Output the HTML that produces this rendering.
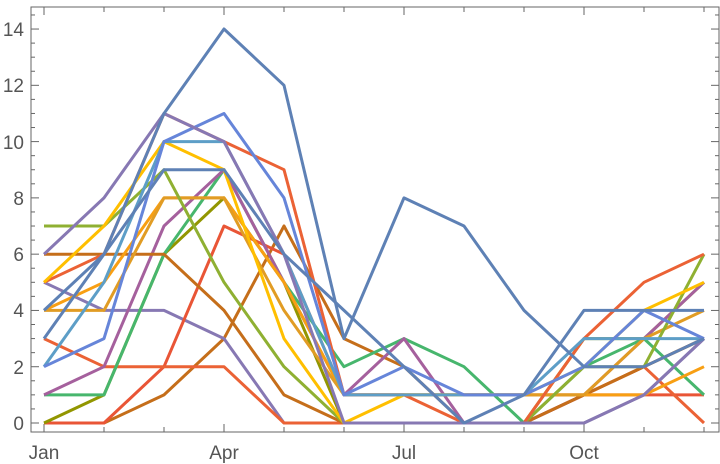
<!DOCTYPE html>
<html><head><meta charset="utf-8"><style>
html,body{margin:0;padding:0;background:#fff;width:720px;height:464px;overflow:hidden}
svg text{font-family:"Liberation Sans",sans-serif;fill:#555}
</style></head><body>
<svg id="s" width="720" height="464" viewBox="0 0 720 464" xmlns="http://www.w3.org/2000/svg">
<rect x="31" y="7" width="688" height="425" fill="none" stroke="#666" stroke-width="1"/>
<g id="ticks" stroke="#666" stroke-width="1"></g>
<g font-size="19" text-anchor="end">
<text x="24" y="430">0</text><text x="24" y="374">2</text><text x="24" y="317">4</text><text x="24" y="261">6</text>
<text x="24" y="205">8</text><text x="24" y="149">10</text><text x="24" y="92">12</text><text x="24" y="36">14</text>
</g>
<g font-size="19" text-anchor="middle">
<text x="44" y="459">Jan</text><text x="224" y="459">Apr</text><text x="404" y="459">Jul</text><text x="584" y="459">Oct</text>
</g>
<g id="lines" fill="none" stroke-width="3" stroke-linejoin="round"></g>
</svg>
<script>
var X=function(i){return 44+60*i},Y=function(v){return 423-28.14*v};
var t='';
for(var i=0;i<12;i++){t+='<line x1="'+X(i)+'" y1="432" x2="'+X(i)+'" y2="'+(i%3==0?424:427)+'"/>';
 t+='<line x1="'+X(i)+'" y1="7" x2="'+X(i)+'" y2="'+(i%3==0?15:12)+'"/>';}
for(var v=0;v<=14.6;v+=0.5){var y=Y(v);t+='<line x1="31" y1="'+y+'" x2="'+(v%2==0?39:35)+'" y2="'+y+'"/>';t+='<line x1="719" y1="'+y+'" x2="'+(v%2==0?711:715)+'" y2="'+y+'"/>';}
document.getElementById('ticks').innerHTML=t;
var S=[
['#c56e1a',[0,0,1,3,7,3,2,0,0,1,2,3]],
['#8778b3',[5,4,4,3,0,0,0,0,0,0,1,3]],
['#e95536',[0,0,2,7,6,1,1,1,1,1,1,1]],
['#eb6235',[3,2,2,2,0,0,0,0,0,1,2,0]],
['#929600',[0,1,6,8,5,0,0,0,0,3,3,5]],
['#47b66d',[1,1,6,9,5,2,3,2,0,2,3,1]],
['#a5609d',[1,2,7,9,5,1,3,0,0,1,3,5]],
['#c56e1a',[6,6,6,4,1,0,0,0,0,1,2,3]],
['#f89f13',[4,5,8,8,5,1,1,1,1,1,1,2]],
['#e19c24',[4,4,8,8,4,1,1,1,1,1,3,4]],
['#8fb032',[7,7,9,5,2,0,0,0,0,2,2,6]],
['#eb6235',[5,6,11,10,9,1,1,0,0,3,5,6]],
['#ffbf00',[5,7,10,9,3,0,1,1,1,2,4,5]],
['#5d9ec7',[2,5,10,10,6,1,1,1,1,3,3,3]],
['#6685d9',[2,3,10,11,8,1,2,1,1,2,4,3]],
['#8778b3',[6,8,11,10,6,0,0,0,0,0,1,3]],
['#5e81b5',[4,6,9,9,6,4,2,0,1,4,4,4]],
['#5e81b5',[3,6,11,14,12,3,8,7,4,2,2,3]]
];
var h='';
S.forEach(function(s){h+='<polyline stroke="'+s[0]+'" points="'+s[1].map(function(v,i){return X(i)+','+Y(v).toFixed(1)}).join(' ')+'"/>';});
document.getElementById('lines').innerHTML=h;
</script>
</body></html>
